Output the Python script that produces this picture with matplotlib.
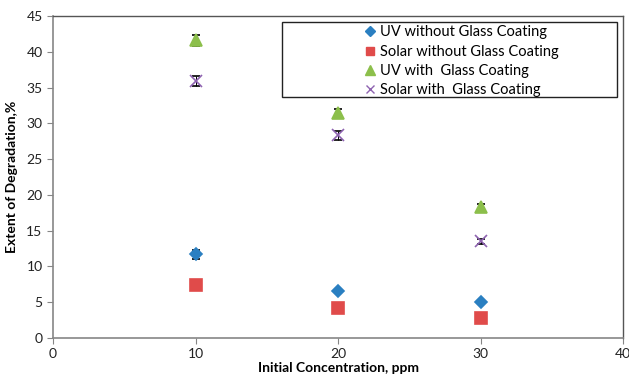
import matplotlib.pyplot as plt
from matplotlib.lines import Line2D
from matplotlib.patches import Rectangle
import numpy as np

plt.rcParams['font.family'] = ['Lato', 'DejaVu Sans']

# initial concentration (ppm) and extent of degradation (%)
conc = [10, 20, 30]
uv_no_glass = [11.7, 6.6, 5.0]
solar_no_glass = [7.4, 4.2, 2.8]
uv_glass = [41.6, 31.4, 18.3]
solar_glass = [35.9, 28.3, 13.5]

uv_no_glass_err = [0.6, 0.2, 0.2]
solar_no_glass_err = [0.2, 0.2, 0.2]
uv_glass_err = [0.8, 0.6, 0.4]
solar_glass_err = [0.7, 0.6, 0.4]

fig = plt.figure(figsize=(6.29, 3.76), dpi=100)
ax = fig.add_axes([53 / 629, 1 - 338 / 376, 570 / 629, 322 / 376])

series = [
    ('UV without Glass Coating', uv_no_glass, uv_no_glass_err, 'D', '#2a7fc1', 6),
    ('Solar without Glass Coating', solar_no_glass, solar_no_glass_err, 's', '#e04b4a', 8),
    ('UV with  Glass Coating', uv_glass, uv_glass_err, '^', '#8cbf4b', 8.5),
    ('Solar with  Glass Coating', solar_glass, solar_glass_err, 'x', '#8e63b0', 8),
]
handles = []
for label, y, err, mk, col, ms in series:
    ax.errorbar(conc, y, yerr=err, fmt=mk, color=col, ms=ms, mew=1.2,
                ecolor='black', elinewidth=0.7, capsize=3, capthick=0.7,
                zorder=3)
    handles.append(Line2D([], [], ls='none', marker=mk, color=col,
                          ms=ms * 0.8, mew=1.0, label=label))

ax.set_xlim(0, 40)
ax.set_ylim(0, 45)
ax.set_xticks(np.arange(0, 41, 10))
ax.set_yticks(np.arange(0, 46, 5))
ax.tick_params(labelsize=10, length=4, colors='#222222')
ax.tick_params(axis='both', which='both', color='#868686')

for side in ['left', 'bottom']:
    ax.spines[side].set_color('#868686')
    ax.spines[side].set_linewidth(1.2)
for side in ['top', 'right']:
    ax.spines[side].set_color('#555555')
    ax.spines[side].set_linewidth(1.0)

ax.set_xlabel('Initial Concentration, ppm', fontsize=10, fontweight='bold', labelpad=1)
ax.set_ylabel('Extent of Degradation,%', fontsize=10, fontweight='bold', labelpad=6)

# legend box is wider than its entries, so draw the frame separately
fig.add_artist(Rectangle((282 / 629, 1 - 97 / 376), 335 / 629, 75 / 376,
                         transform=fig.transFigure, fill=True, facecolor='white',
                         edgecolor='#222222', lw=1.0, zorder=4))
leg = fig.legend(handles=handles, loc='upper left',
                 bbox_to_anchor=(360 / 629, 1 - 21 / 376), fontsize=10.5,
                 frameon=False, handlelength=0.8, handletextpad=0.3,
                 borderpad=0.3, labelspacing=0.36, borderaxespad=0)
leg.set_zorder(5)

fig.savefig('out.png', dpi=100)
